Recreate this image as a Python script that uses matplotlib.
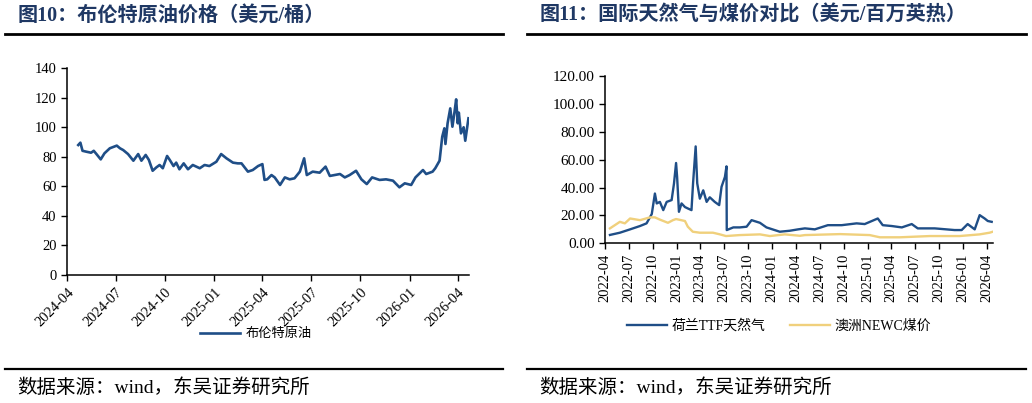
import matplotlib
matplotlib.use("Agg")
import matplotlib.pyplot as plt
from matplotlib.lines import Line2D
import pandas as pd

plt.rcParams['font.family'] = ['Liberation Serif', 'Noto Sans CJK SC', 'DejaVu Sans']

# ---------------- data ----------------
brent_dates = [
    "2024-04-22", "2024-04-26", "2024-04-30", "2024-05-07", "2024-05-16", "2024-05-21", "2024-05-26",
    "2024-06-03", "2024-06-10", "2024-06-20", "2024-07-03", "2024-07-09", "2024-07-15", "2024-07-24",
    "2024-08-03", "2024-08-12", "2024-08-18", "2024-08-26", "2024-09-01", "2024-09-08", "2024-09-15",
    "2024-09-21", "2024-09-27", "2024-10-05", "2024-10-10", "2024-10-17", "2024-10-22", "2024-10-28",
    "2024-11-05", "2024-11-13", "2024-11-22", "2024-12-05", "2024-12-14", "2024-12-23", "2025-01-05",
    "2025-01-14", "2025-01-24", "2025-02-05", "2025-02-14", "2025-02-21", "2025-03-05", "2025-03-14",
    "2025-03-24", "2025-04-01", "2025-04-05", "2025-04-10", "2025-04-18", "2025-04-24", "2025-05-04",
    "2025-05-13", "2025-05-22", "2025-05-31", "2025-06-10", "2025-06-18", "2025-06-23", "2025-07-04",
    "2025-07-17", "2025-07-28", "2025-08-05", "2025-08-24", "2025-09-02", "2025-09-11", "2025-09-23",
    "2025-10-03", "2025-10-13", "2025-10-23", "2025-11-06", "2025-11-18", "2025-12-01", "2025-12-13",
    "2025-12-23", "2026-01-04", "2026-01-12", "2026-01-26", "2026-02-01", "2026-02-13", "2026-02-18",
    "2026-02-26", "2026-03-03", "2026-03-07", "2026-03-09", "2026-03-13", "2026-03-18", "2026-03-22",
    "2026-03-26", "2026-03-29", "2026-04-01", "2026-04-03", "2026-04-07", "2026-04-12", "2026-04-15",
    "2026-04-21",
]
brent_values = [
    87.9, 89.5, 84.0, 83.4, 82.7, 84.0, 81.8,
    78.2, 82.3, 85.7, 87.5, 85.7, 84.5, 81.8,
    77.3, 81.8, 77.3, 81.2, 77.8, 70.5, 72.8,
    74.4, 72.2, 80.5, 77.8, 73.7, 76.0, 71.5,
    75.5, 71.5, 74.4, 72.2, 74.4, 73.7, 76.6,
    81.8, 78.9, 76.0, 75.5, 75.5, 69.9, 71.0,
    73.7, 75.0, 64.3, 64.7, 67.6, 66.0, 60.9,
    66.0, 64.7, 65.4, 69.9, 78.9, 67.6, 69.9,
    69.2, 73.3, 67.0, 68.3, 66.0, 67.6, 70.5,
    64.7, 61.5, 66.0, 64.3, 64.7, 63.8, 59.3,
    62.0, 60.9, 66.0, 71.0, 68.3, 69.9, 72.2,
    77.3, 93.5, 99.2, 88.6, 102.6, 112.7, 100.3,
    110.4, 118.8, 102.6, 109.8, 95.8, 99.9, 90.8,
    106.0,
]

ttf_dates = [
    "2022-04-20", "2022-05-28", "2022-07-06", "2022-08-13", "2022-09-07", "2022-09-27", "2022-10-09",
    "2022-10-16", "2022-10-28", "2022-11-10", "2022-11-23", "2022-12-12", "2022-12-21", "2022-12-29",
    "2023-01-02", "2023-01-09", "2023-01-19", "2023-02-01", "2023-02-12", "2023-02-26", "2023-03-04",
    "2023-03-14", "2023-03-20", "2023-03-30", "2023-04-12", "2023-04-25", "2023-05-07", "2023-05-26",
    "2023-06-12", "2023-06-21", "2023-07-04", "2023-07-10", "2023-07-11", "2023-08-05", "2023-08-30",
    "2023-09-25", "2023-10-14", "2023-11-15", "2023-12-10", "2024-01-30", "2024-03-08", "2024-04-09",
    "2024-05-05", "2024-06-12", "2024-08-01", "2024-09-23", "2024-11-19", "2024-12-20", "2025-02-08",
    "2025-02-27", "2025-04-02", "2025-05-11", "2025-06-18", "2025-07-11", "2025-09-14", "2025-11-29",
    "2025-12-26", "2026-01-18", "2026-02-14", "2026-03-05", "2026-03-24", "2026-04-05", "2026-04-20",
]
ttf_values = [
    6.0, 7.6, 10.0, 12.4, 14.3, 21.0, 35.7,
    28.6, 29.7, 23.8, 29.7, 31.0, 42.8, 57.6,
    47.6, 22.6, 28.6, 26.0, 25.0, 23.8, 43.0,
    69.5, 43.0, 32.0, 38.0, 29.7, 33.0, 29.7,
    27.4, 40.5, 47.6, 55.2, 9.5, 11.4, 11.4,
    11.9, 16.6, 14.7, 11.4, 8.3, 9.0, 10.0,
    10.7, 10.0, 13.0, 13.0, 14.3, 13.8, 17.8,
    13.0, 12.4, 11.4, 13.8, 10.7, 10.7, 9.5,
    9.5, 13.8, 10.0, 20.2, 17.8, 16.0, 15.4,
]

coal_dates = [
    "2022-04-20", "2022-05-28", "2022-06-16", "2022-07-06", "2022-08-13", "2022-09-20", "2022-10-09",
    "2022-10-28", "2022-11-28", "2022-12-17", "2022-12-29", "2023-02-01", "2023-02-12", "2023-03-03",
    "2023-03-30", "2023-05-19", "2023-06-15", "2023-07-08", "2023-08-30", "2023-11-15", "2023-12-23",
    "2024-02-18", "2024-04-16", "2024-05-05", "2024-09-17", "2025-01-08", "2025-02-16", "2025-05-03",
    "2025-08-26", "2025-12-18", "2026-03-05", "2026-04-12", "2026-04-24",
]
coal_values = [
    10.7, 15.4, 14.3, 17.8, 16.6, 18.6, 18.6,
    17.0, 14.7, 16.6, 17.4, 16.0, 11.9, 8.3,
    7.6, 7.6, 6.4, 5.2, 5.9, 6.4, 5.2,
    6.4, 5.4, 5.9, 6.6, 5.9, 4.3, 4.3,
    5.2, 5.2, 6.4, 7.6, 8.3,
]

left_ticks = ["2024-04", "2024-07", "2024-10", "2025-01", "2025-04",
              "2025-07", "2025-10", "2026-01", "2026-04"]
right_ticks = ["2022-04", "2022-07", "2022-10", "2023-01", "2023-04", "2023-07",
               "2023-10", "2024-01", "2024-04", "2024-07", "2024-10", "2025-01",
               "2025-04", "2025-07", "2025-10", "2026-01", "2026-04"]

left_title = "图10：布伦特原油价格（美元/桶）"
right_title = "图11：国际天然气与煤价对比（美元/百万英热）"
source_text = "数据来源：wind，东吴证券研究所"

BLUE = "#1F4E87"
YELLOW = "#F0D07C"
NAVY = "#1F3864"

W, H = 1032, 403
fig = plt.figure(figsize=(W / 100, H / 100), dpi=100)


def fx(px):
    return px / W


def fy(py):
    return 1 - py / H


def style_axis(ax, fs):
    for s in ["top", "right"]:
        ax.spines[s].set_visible(False)
    for s in ["left", "bottom"]:
        ax.spines[s].set_linewidth(1.1)
        ax.spines[s].set_color("black")
    ax.tick_params(axis="both", direction="out", length=4, width=1.0,
                   labelsize=fs, colors="black")


# ---------- left chart ----------
axL = fig.add_axes([fx(67), fy(275), fx(469) - fx(67), fy(68) - fy(275)])
bd = pd.to_datetime(brent_dates)
axL.plot(bd, brent_values, color=BLUE, lw=1.9, label="布伦特原油")
axL.set_ylim(0, 140)
axL.set_yticks(range(0, 141, 20))
axL.set_xlim(pd.Timestamp("2024-04-01"), pd.Timestamp("2026-04-22"))
axL.set_xticks(pd.to_datetime(left_ticks))
axL.set_xticklabels(left_ticks, rotation=45, ha="right", rotation_mode="anchor")
style_axis(axL, 10.5)
axL.tick_params(axis="x", pad=4)
axL.legend(loc="center", bbox_to_anchor=(fx(256), fy(334)), bbox_transform=fig.transFigure,
           frameon=False, fontsize=9.5, handlelength=3.0, handletextpad=0.4,
           borderpad=0, borderaxespad=0)

# ---------- right chart ----------
axR = fig.add_axes([fx(605), fy(243.3), fx(993) - fx(605), fy(76) - fy(243.3)])
axR.plot(pd.to_datetime(ttf_dates), ttf_values, color=BLUE, lw=1.7, label="荷兰TTF天然气")
axR.plot(pd.to_datetime(coal_dates), coal_values, color=YELLOW, lw=1.7, label="澳洲NEWC煤价")
axR.set_ylim(0, 120)
axR.set_yticks(range(0, 121, 20))
axR.set_yticklabels([f"{v:.2f}" for v in range(0, 121, 20)])
axR.set_xlim(pd.Timestamp("2022-04-01"), pd.Timestamp("2026-04-25"))
axR.set_xticks(pd.to_datetime(right_ticks))
axR.set_xticklabels(right_ticks, rotation=90, ha="center", va="top")
style_axis(axR, 11)
axR.tick_params(axis="x", labelsize=10.5)
axR.legend(loc="center", bbox_to_anchor=(fx(779), fy(326)), bbox_transform=fig.transFigure,
           frameon=False, fontsize=10, ncol=2, handlelength=2.9, handletextpad=0.3,
           columnspacing=1.8, borderpad=0, borderaxespad=0)

# ---------- titles, rules, sources ----------
fig.text(fx(18), fy(15.5), left_title, fontsize=14.5, fontweight="bold", color=NAVY,
         ha="left", va="center")
fig.text(fx(540), fy(15.5), right_title, fontsize=14.5, fontweight="bold", color=NAVY,
         ha="left", va="center")
for x0, x1 in [(5, 503), (527, 1026)]:
    fig.add_artist(Line2D([fx(x0), fx(x1)], [fy(34), fy(34)], color="black", lw=2.0))
    fig.add_artist(Line2D([fx(x0), fx(x1)], [fy(369), fy(369)], color="black", lw=1.6))
fig.text(fx(17), fy(388), source_text, fontsize=14, color="black", ha="left", va="center")
fig.text(fx(539), fy(388), source_text, fontsize=14, color="black", ha="left", va="center")

fig.savefig("out.png", dpi=100)
